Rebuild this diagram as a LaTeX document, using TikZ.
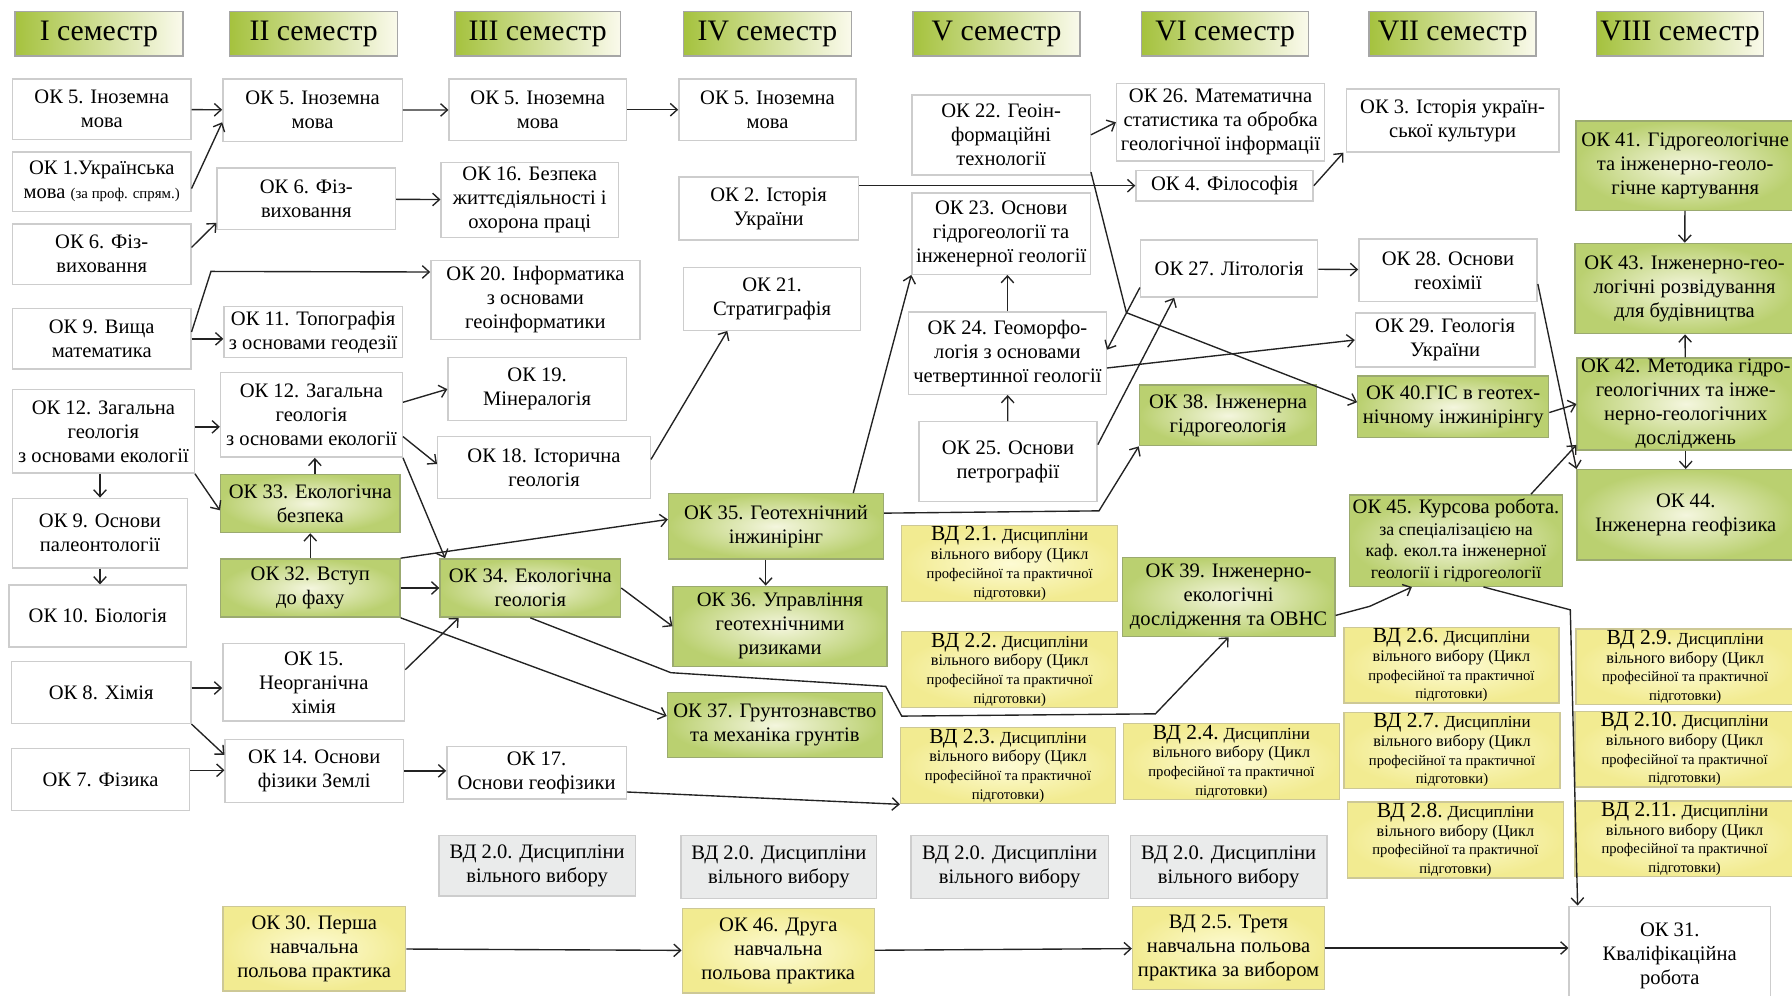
\documentclass[tikz,border=0pt]{standalone}
\usepackage{fontspec}
\setmainfont{Liberation Serif}
\usetikzlibrary{arrows.meta}

\definecolor{hdgreen}{RGB}{165,194,62}
\definecolor{hdlight}{RGB}{250,250,236}
\definecolor{gnout}{RGB}{186,208,112}
\definecolor{gnin}{RGB}{244,246,222}
\definecolor{ylout}{RGB}{242,235,145}
\definecolor{ylin}{RGB}{253,251,212}
\definecolor{grfill}{RGB}{234,235,235}
\definecolor{boxline}{RGB}{205,205,205}
\definecolor{gnline}{RGB}{155,170,112}
\definecolor{ylline}{RGB}{205,200,150}
\definecolor{linec}{RGB}{35,35,35}

\tikzset{
	boxbase/.style={rectangle,align=center,inner sep=0.5pt,line width=0.6pt,font=\fontsize{9}{10.5}\selectfont},
	wb/.style={boxbase,draw=boxline,fill=white},
	gb/.style={boxbase,draw=gnline,inner color=gnin,outer color=gnout},
	yb/.style={boxbase,draw=ylline,inner color=ylin,outer color=ylout},
	grb/.style={boxbase,draw=boxline,fill=grfill},
	hd/.style={boxbase,draw=gray!70,left color=hdgreen,right color=hdlight,font=\fontsize{13}{14}\selectfont},
	vdb/.style={yb,font=\fontsize{6.4}{8.2}\selectfont},
	arr/.style={draw=linec,line width=0.6pt,->}
}

% box from corner (x1,y1) to corner (x2,y2), y counted downwards
\newcommand{\cbox}[7]{\node[#1,minimum width={(#5-#3)*0.5pt},minimum height={(#6-#4)*0.5pt}] (#2) at ({(#3+#5)/2},{(#4+#6)/2}) {#7};}
\newcommand{\vdt}[1]{{\fontsize{9.4}{9}\selectfont ВД #1.} {\fontsize{7.4}{8}\selectfont Дисципліни}\\{\fontsize{7.1}{8}\selectfont вільного вибору (Цикл}\\професійної та практичної\\підготовки)}

\begin{document}
\begin{tikzpicture}[x=0.5pt,y=-0.5pt,>={Straight Barb[length=3pt,width=5.5pt]}]
	\useasboundingbox (0,0) rectangle (1568,871);
	% semesters
	\cbox{hd}{s1}{13}{10}{160}{49}{I семестр}
	\cbox{hd}{s2}{201}{10}{348}{49}{II семестр}
	\cbox{hd}{s3}{398}{10}{543}{49}{III семестр}
	\cbox{hd}{s4}{598}{10}{745}{49}{IV семестр}
	\cbox{hd}{s5}{799}{10}{945}{49}{V семестр}
	\cbox{hd}{s6}{999}{10}{1145}{49}{VI семестр}
	\cbox{hd}{s7}{1198}{10}{1344}{49}{VII семестр}
	\cbox{hd}{s8}{1397}{10}{1543}{49}{VIII семестр}
	% I
	\cbox{wb}{ok5a}{11}{69}{167}{122}{ОК 5. Іноземна\\мова}
	\cbox{wb}{ok1}{11}{133}{167}{185}{ОК 1.Українська\\мова {\fontsize{6.5}{8}\selectfont (за проф. спрям.)}}
	\cbox{wb}{ok6a}{11}{196}{167}{249}{ОК 6. Фіз-\\виховання}
	\cbox{wb}{ok9a}{11}{270}{167}{323}{ОК 9. Вища\\математика}
	\cbox{wb}{ok12a}{11}{341}{170}{414}{ОК 12. Загальна\\геологія\\з основами екології}
	\cbox{wb}{ok9b}{11}{436}{164}{497}{ОК 9. Основи\\палеонтології}
	\cbox{wb}{ok10}{8}{512}{163}{566}{ОК 10. Біологія}
	\cbox{wb}{ok8}{10}{579}{167}{633}{ОК 8. Хімія}
	\cbox{wb}{ok7}{10}{655}{166}{709}{ОК 7. Фізика}
	% II
	\cbox{wb}{ok5b}{195}{69}{352}{124}{ОК 5. Іноземна\\мова}
	\cbox{wb}{ok6b}{190}{147}{346}{201}{ОК 6. Фіз-\\виховання}
	\cbox{wb}{ok11}{196}{268}{352}{313}{ОК 11. Топографія\\з основами геодезії}
	\cbox{wb}{ok12b}{193}{326}{352}{400}{ОК 12. Загальна\\геологія\\з основами екології}
	\cbox{gb}{ok33}{193}{415}{350}{466}{ОК 33. Екологічна\\безпека}
	\cbox{gb}{ok32}{193}{489}{350}{540}{ОК 32. Вступ\\до фаху}
	\cbox{wb}{ok15}{195}{563}{354}{631}{ОК 15.\\Неорганічна\\хімія}
	\cbox{wb}{ok14}{197}{647}{353}{702}{ОК 14. Основи\\фізики Землі}
	\cbox{yb}{ok30}{195}{793}{355}{867}{ОК 30. Перша\\навчальна\\польова практика}
	% III
	\cbox{wb}{ok5c}{393}{69}{548}{123}{ОК 5. Іноземна\\мова}
	\cbox{wb}{ok16}{386}{142}{541}{208}{ОК 16. Безпека\\життєдіяльності і\\охорона праці}
	\cbox{wb}{ok20}{377}{228}{560}{297}{ОК 20. Інформатика\\з основами\\геоінформатики}
	\cbox{wb}{ok19}{392}{313}{548}{368}{ОК 19.\\Мінералогія}
	\cbox{wb}{ok18}{383}{382}{569}{436}{ОК 18. Історична\\геологія}
	\cbox{gb}{ok34}{385}{489}{543}{540}{ОК 34. Екологічна\\геологія}
	\cbox{wb}{ok17}{391}{653}{548}{699}{ОК 17.\\Основи геофізики}
	\cbox{grb}{vd0a}{384}{731}{556}{784}{ВД 2.0. Дисципліни\\вільного вибору}
	% IV
	\cbox{wb}{ok5d}{594}{69}{749}{123}{ОК 5. Іноземна\\мова}
	\cbox{wb}{ok2}{594}{155}{751}{210}{ОК 2. Історія\\України}
	\cbox{wb}{ok21}{598}{234}{753}{289}{ОК 21.\\Стратиграфія}
	\cbox{gb}{ok35}{585}{432}{773}{489}{ОК 35. Геотехнічний\\інжинірінг}
	\cbox{gb}{ok36}{589}{513}{776}{583}{ОК 36. Управління\\геотехнічними\\ризиками}
	\cbox{gb}{ok37}{584}{606}{772}{663}{ОК 37. Грунтознавство\\та механіка грунтів}
	\cbox{grb}{vd0b}{596}{731}{767}{786}{ВД 2.0. Дисципліни\\вільного вибору}
	\cbox{yb}{ok46}{597}{795}{765}{869}{ОК 46. Друга\\навчальна\\польова практика}
	% V
	\cbox{wb}{ok22}{798}{83}{954}{153}{ОК 22. Геоін-\\формаційні\\технології}
	\cbox{wb}{ok23}{798}{169}{954}{240}{ОК 23. Основи\\гідрогеології та\\інженерної геології}
	\cbox{wb}{ok24}{795}{273}{968}{345}{ОК 24. Геоморфо-\\логія з основами\\четвертинної геології}
	\cbox{wb}{ok25}{804}{369}{960}{439}{ОК 25. Основи\\петрографії}
	\cbox{vdb}{vd1}{789}{460}{978}{526}{\vdt{2.1}}
	\cbox{vdb}{vd2}{789}{554}{978}{618}{\vdt{2.2}}
	\cbox{vdb}{vd3}{788}{637}{976}{703}{\vdt{2.3}}
	\cbox{grb}{vd0c}{797}{731}{970}{786}{ВД 2.0. Дисципліни\\вільного вибору}
	% VI
	\cbox{wb}{ok26}{977}{73}{1159}{141}{ОК 26. Математична\\статистика та обробка\\геологічної інформації}
	\cbox{wb}{ok4}{994}{149}{1149}{176}{ОК 4. Філософія}
	\cbox{wb}{ok27}{998}{210}{1153}{260}{ОК 27. Літологія}
	\cbox{gb}{ok38}{997}{337}{1152}{390}{ОК 38. Інженерна\\гідрогеологія}
	\cbox{gb}{ok39}{982}{488}{1168}{557}{ОК 39. Інженерно-\\екологічні\\дослідження та ОВНС}
	\cbox{vdb}{vd4}{983}{634}{1172}{699}{\vdt{2.4}}
	\cbox{grb}{vd0d}{989}{731}{1161}{786}{ВД 2.0. Дисципліни\\вільного вибору}
	\cbox{yb}{vd5}{991}{793}{1159}{866}{ВД 2.5. Третя\\навчальна польова\\практика за вибором}
	% VII
	\cbox{wb}{ok3}{1178}{78}{1364}{133}{ОК 3. Історія україн-\\ської культури}
	\cbox{wb}{ok28}{1189}{209}{1345}{264}{ОК 28. Основи\\геохімії}
	\cbox{wb}{ok29}{1186}{274}{1343}{321}{ОК 29. Геологія\\України}
	\cbox{gb}{ok40}{1188}{329}{1355}{383}{ОК 40.ГІС в геотех-\\нічному інжинірінгу}
	\cbox{gb,font=\fontsize{7.8}{9.5}\selectfont}{ok45}{1181}{433}{1367}{513}{{\fontsize{9}{10}\selectfont ОК 45. Курсова робота.}\\за спеціалізацією на\\каф. екол.та інженерної\\геології і гідрогеології}
	\cbox{vdb}{vd6}{1176}{549}{1364}{615}{\vdt{2.6}}
	\cbox{vdb}{vd7}{1176}{624}{1365}{689}{\vdt{2.7}}
	\cbox{vdb}{vd8}{1179}{702}{1368}{768}{\vdt{2.8}}
	% VIII
	\cbox{gb}{ok41}{1379}{106}{1570}{184}{ОК 41. Гідрогеологічне\\та інженерно-геоло-\\гічне картування}
	\cbox{gb}{ok43}{1378}{213}{1570}{292}{ОК 43. Інженерно-гео-\\логічні розвідування\\для будівництва}
	\cbox{gb}{ok42}{1380}{314}{1570}{393}{ОК 42. Методика гідро-\\геологічних та інже-\\нерно-геологічних\\досліджень}
	\cbox{gb}{ok44}{1380}{411}{1570}{490}{ОК 44.\\Інженерна геофізика}
	\cbox{vdb}{vd9}{1379}{551}{1570}{616}{\vdt{2.9}}
	\cbox{vdb}{vd10}{1378}{623}{1570}{688}{\vdt{2.10}}
	\cbox{vdb}{vd11}{1378}{701}{1570}{767}{\vdt{2.11}}
	\cbox{wb}{ok31}{1373}{793}{1549}{880}{ОК 31.\\Кваліфікаційна\\робота}
	% connectors
	\path (ok5a) edge[arr] (ok5b)
		([yshift=-3pt]ok1.east) edge[arr] ([yshift=-5.25pt]ok5b.west)
		([yshift=3pt]ok6a.east) edge[arr] ([yshift=-10.5pt]ok6b.west)
		(ok9a.east) edge[arr] (ok9a.east -| ok11.west)
		([yshift=2pt]ok12a.east) edge[arr] ([yshift=2pt]ok12a.east -| ok12b.west)
		(ok12a.south east) edge[arr] ([yshift=-3pt]ok33.west)
		(ok12a.south -| ok9b) edge[arr] (ok9b.north)
		(ok9b.south) edge[arr] (ok9b.south |- ok10.north)
		([yshift=2pt]ok8.east) edge[arr] ([yshift=2pt]ok8.east -| ok15.west)
		(ok8.south east) edge[arr] ([yshift=7pt]ok14.west)
		([yshift=4pt]ok7.east) edge[arr] ([yshift=4pt]ok7.east -| ok14.west)
		(ok5b) edge[arr] (ok5c)
		(ok6b) edge[arr] (ok16)
		([xshift=2pt]ok33.north) edge[arr] ([xshift=2pt]ok33.north |- ok12b.south)
		(ok32) edge[arr] (ok33)
		([yshift=5.5pt]ok12b.east) edge[arr] (ok19.west)
		([yshift=-9.5pt]ok12b.east) edge[arr] ([yshift=1.5pt]ok18.west)
		(ok12b.south east) edge[arr] ([xshift=2.5pt]ok34.north west)
		(ok32.north east) edge[arr] ([yshift=3pt]ok35.west)
		(ok32) edge[arr] (ok34)
		(ok32.south east) edge[arr] ([yshift=4pt]ok37.west)
		([yshift=5.5pt]ok15.east) edge[arr] ([xshift=8.5pt]ok34.south west)
		(ok14.east) edge[arr] (ok14.east -| ok17.west)
		(ok5c) edge[arr] (ok5d)
		([yshift=-8.5pt]ok17.east) edge[arr] (vd3.south west)
		(ok34.east) edge[arr] (ok36.west)
		([yshift=3.5pt]ok18.east) edge[arr] ([xshift=19.5pt]ok21.south west)
		([xshift=-4.5pt]ok35.south) edge[arr] ([xshift=-4.5pt]ok35.south |- ok36.north)
		([xshift=-13.5pt]ok35.north east) edge[arr] (ok23.south west)
		(ok2.east |- ok4) edge[arr] (ok4.west)
		(ok25) edge[arr] (ok24)
		(ok24.north) edge[arr] (ok24.north |- ok23.south)
		([yshift=7.5pt]ok25.east) edge[arr] ([xshift=15pt]ok27.south west)
		([yshift=4.5pt]ok27.south west) edge[arr] ([yshift=1.5pt]ok24.east)
		([yshift=-6.5pt]ok24.east) edge[arr] (ok29.west)
		(ok22.east) edge[arr] (ok26.west)
		(ok4.east) edge[arr] ([xshift=-1pt]ok3.south west)
		(ok27) edge[arr] (ok28)
		([yshift=-6pt]ok28.east) edge[arr] (ok44.north west)
		([yshift=-2.5pt]ok40.east) edge[arr] (ok42.west)
		([xshift=-14pt]ok45.north east) edge[arr] ([yshift=2.5pt]ok42.south west)
		(ok41) edge[arr] (ok43)
		(ok42) edge[arr] (ok43)
		(ok42) edge[arr] (ok44)
		(ok30) edge[arr] (ok46)
		(ok46) edge[arr] (vd5)
		(vd5) edge[arr] (vd5 -| ok31.west);
	\draw[arr] ([yshift=3pt]ok9a.east) -- ++(17,-53) -- ([yshift=12.25pt]ok20.west);
	\draw[arr] (ok34.south) -- ++(123,48) -- ++(188,12) -- ++(14,26) -- ++(222,-2) -- (ok39.south);
	\draw[arr] ([yshift=5.75pt]ok35.east) -- ++(188,-2) -- (ok38.south west);
	\draw[arr] ([yshift=1.5pt]ok22.south east) -- ++(31,123) -- ([yshift=2pt]ok40.west);
	\draw[arr] ([yshift=-8pt]ok39.east) -- ++(30,-8) -- ([xshift=27.5pt]ok45.south west);
	\draw[arr] ([xshift=12pt]ok45.south) -- ++(76,20) -- ([xshift=4pt]ok31.north west);
\end{tikzpicture}
\end{document}
